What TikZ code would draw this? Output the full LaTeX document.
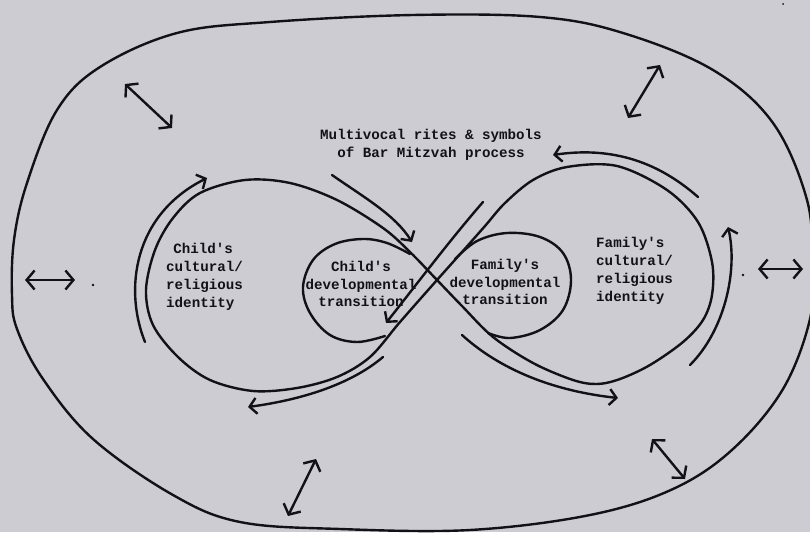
\documentclass[tikz,border=0pt]{standalone}
\usepackage{fontspec}
\newfontfamily\printfont{Liberation Mono}
\usetikzlibrary{arrows.meta}
\definecolor{paper}{RGB}{205,204,211}
\definecolor{ink}{RGB}{18,18,22}

\begin{document}
\begin{tikzpicture}[x=1pt,y=-1pt,
  pen/.style={draw=ink,line width=2.4pt,line cap=round,line join=round},
  headtip/.style={-{Straight Barb[length=7pt,width=16pt]}},
  bothtips/.style={{Straight Barb[length=8pt,width=19pt]}-{Straight Barb[length=8pt,width=19pt]}},
  typed/.style={font=\printfont\bfseries\fontsize{14.2}{17.8}\selectfont,text=ink,inner sep=0pt},
  speck/.style={fill=ink,circle,inner sep=0pt,minimum size=2.6pt},
]
% paper
\fill[paper] (0,0) rectangle (810,532);
\useasboundingbox (0,0) rectangle (810,532);

% outer boundary (the environment)
\draw[pen] plot[smooth cycle,tension=0.6] coordinates {
  (413,15) (540,17) (623,33) (713,70) (773,123) (807,200) (812,265)
  (810,319) (783,389) (733,449) (673,489) (590,515) (470,530) (340,529)
  (240,522) (173,495) (93,439) (43,379) (17,329) (12,295) (14,240)
  (27,183) (57,110) (100,67) (177,33) (270,22)};

% large figure-eight: cultural/religious identities
\draw[pen] plot[smooth cycle,tension=0.55] coordinates {
  (437,280) (410,252) (383,228) (337,200) (290,183) (245,180) (200,193)
  (173,218) (155,250) (146,290) (153,325) (178,357) (210,380) (253,391)
  (297,388) (337,377) (370,357) (400,322)
  (437,280) (462,252) (485,226) (505,203) (533,180) (567,167) (617,166)
  (667,190) (698,222) (712,262) (712,295) (703,320) (683,342) (650,365)
  (620,379) (597,384) (573,380) (533,363) (493,337) (462,306)};

% inner loops: developmental transitions
\draw[pen] plot[smooth,tension=0.6] coordinates {
  (410,254) (387,243) (363,239) (335,244) (313,260) (303,287) (310,313)
  (330,335) (357,342) (385,336)};
\draw[pen] plot[smooth,tension=0.6] coordinates {
  (455,259) (477,241) (507,233) (540,237) (563,253) (571,280) (563,310)
  (540,330) (510,338) (488,333)};

% flow arrows along the figure-eight
\coordinate (a1s) at (145,342);  \coordinate (a1e) at (207,178);
\coordinate (a2s) at (332,175);  \coordinate (a2e) at (412,242);
\coordinate (a3s) at (483,202);  \coordinate (a3e) at (386,323);
\coordinate (a4s) at (383,357);  \coordinate (a4e) at (248,407);
\coordinate (a5s) at (462,335);  \coordinate (a5e) at (618,398);
\coordinate (a6s) at (690,365);  \coordinate (a6e) at (728,227);
\coordinate (a7s) at (698,197);  \coordinate (a7e) at (553,155);

\draw[pen,headtip] (a1s) .. controls (124,290) and (133,215) .. (a1e);
\draw[pen,headtip] (a2s) .. controls (365,198) and (395,215) .. (a2e);
\draw[pen,headtip] (a3s) .. controls (450,240) and (420,280) .. (a3e);
\draw[pen,headtip] (a4s) .. controls (350,385) and (300,400) .. (a4e);
\draw[pen,headtip] (a5s) .. controls (495,365) and (545,390) .. (a5e);
\draw[pen,headtip] (a6s) .. controls (725,330) and (738,270) .. (a6e);
\draw[pen,headtip] (a7s) .. controls (665,168) and (620,145) .. (a7e);

% two-way exchanges with the surroundings
\coordinate (d1a) at (125,84);   \coordinate (d1b) at (172,128);
\coordinate (d2a) at (660,65);   \coordinate (d2b) at (628,118);
\coordinate (d3a) at (25,280);   \coordinate (d3b) at (75,280);
\coordinate (d4a) at (758,269);  \coordinate (d4b) at (803,269);
\coordinate (d5a) at (316,459);  \coordinate (d5b) at (288,516);
\coordinate (d6a) at (652,439);  \coordinate (d6b) at (685,479);
\draw[pen,bothtips] (d1a) -- (d1b);
\draw[pen,bothtips] (d2a) -- (d2b);
\draw[pen,bothtips] (d3a) -- (d3b);
\draw[pen,bothtips] (d4a) -- (d4b);
\draw[pen,bothtips] (d5a) -- (d5b);
\draw[pen,bothtips] (d6a) -- (d6b);

\node[speck] (s1) at (93,285) {};
\node[speck] (s2) at (743,275) {};
\node[speck,minimum size=2pt] (s3) at (783,4) {};

% labels
\node[typed,align=center] (rites) at (431,145)
  {Multivocal rites \& symbols\\of Bar Mitzvah process};
\node[typed,align=left,anchor=west] (childid) at (166,277)
  {\hspace*{0.5em}Child's\\cultural/\\religious\\identity};
\node[typed,align=center] (childdev) at (361,284)
  {Child's\\developmental\\transition};
\node[typed,align=center] (famdev) at (505,282)
  {Family's\\developmental\\transition};
\node[typed,align=left,anchor=west] (famid) at (596,271)
  {Family's\\cultural/\\religious\\identity};
\end{tikzpicture}
\end{document}
